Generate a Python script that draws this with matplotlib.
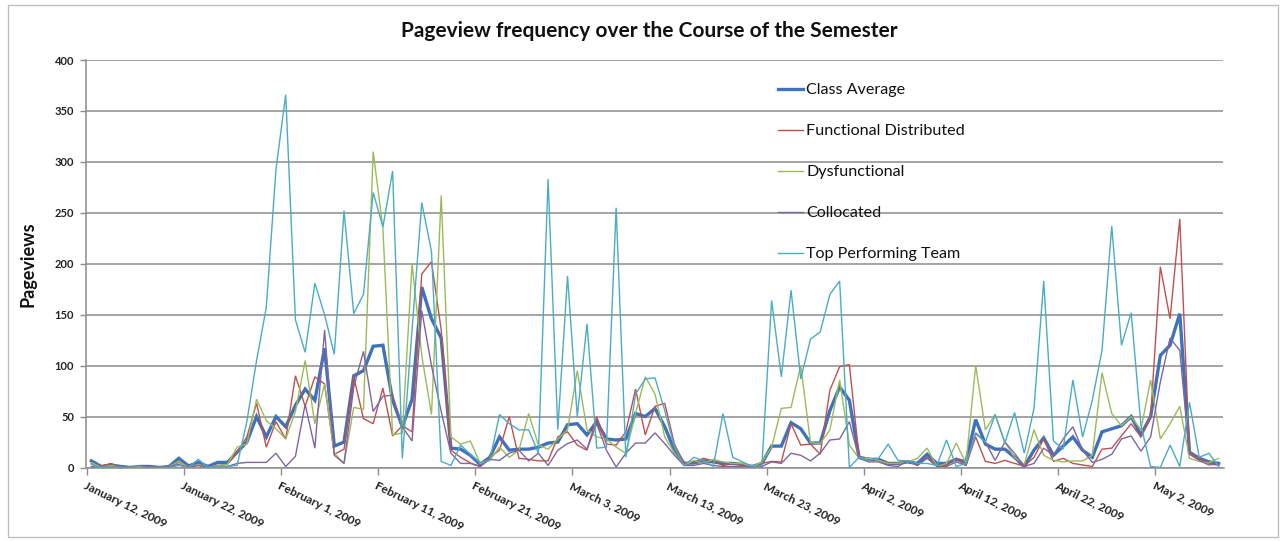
import numpy as np
import pandas as pd
import matplotlib
matplotlib.use("Agg")
import matplotlib.pyplot as plt
from matplotlib.patches import Rectangle

plt.rcParams['font.family'] = ['Lato', 'DejaVu Sans']

# daily pageviews, Jan 12 2009 .. May 8 2009
start = '2009-01-12'
class_average = [
    6.5, 1, 2.5, 1, 0, 1, 1, 0, 1, 9, 1.5, 5, 1, 5, 5, 15, 25, 50, 30, 50,
    40, 61, 77, 66, 117, 21, 25, 90, 95, 119, 120, 66, 40, 67, 177, 146, 127, 19, 18,
    12, 3, 10, 30, 17, 18, 18, 20, 24, 25, 42, 43, 32, 45, 28, 27, 28, 53, 50, 58,
    40, 17, 4, 4.5, 6.5, 5.5, 4, 4, 3, 1, 4, 21, 21, 44, 38, 24, 24, 56, 79,
    66, 10, 8, 8, 4, 4, 5.5, 4, 13, 4, 4, 8, 5.5, 47, 23, 18, 18, 10, 1, 17,
    29, 12, 21, 30, 17, 10, 35, 38, 41, 50, 32, 50, 110, 120, 151, 15, 9, 5.5, 4]
functional_distributed = [
    4, 1, 4, 0, 0, 1, 1, 0, 1, 5, 1, 2, 0, 2, 3, 15, 30, 63, 20, 45,
    28, 90, 60, 89, 82, 13, 18, 89, 48, 43, 78, 31, 41, 35, 190, 202, 135, 17, 10,
    4.5, 1, 10, 17, 50, 9, 8, 6.5, 6.5, 30, 35, 22, 17, 50, 23, 22, 35, 77, 32, 60,
    63, 23, 4, 5.5, 9, 6.5, 2, 4, 2, 0.5, 4, 6, 5.5, 43, 22, 23, 13, 76, 99,
    101, 10, 9, 7, 4, 4, 6.5, 2, 10, 2, 2, 9, 2, 30, 6, 4, 7, 4, 1.5, 10,
    28, 6, 9, 4, 2.5, 1, 18, 19, 31, 43, 30, 50, 197, 146, 244, 15, 8.5, 4, 2]
dysfunctional = [
    5, 0, 2, 0, 0, 1, 0, 0, 1, 6, 0, 3, 0, 2, 3, 20, 23, 67, 46, 38,
    28, 55, 105, 43, 82, 14, 4, 59, 57, 310, 235, 32, 34, 200, 110, 52, 267, 30, 23,
    26, 4, 7, 20, 10, 17, 53, 22, 18, 28, 37, 95, 37, 30, 28, 20, 14, 53, 89, 72,
    30, 14, 2, 7, 4, 8, 5.5, 4, 4, 1, 5.5, 20, 58, 59, 100, 24.5, 23.5, 37, 86,
    22, 9, 9, 7, 4, 4, 5.5, 9, 19, 1, 4, 24, 4, 100, 37, 52, 25, 10, 3, 37,
    12, 7, 5.5, 6.5, 6.5, 12, 93, 53, 41, 50, 37, 86, 28, 43, 60, 9, 6, 4.5, 9]
collocated = [
    1, 0, 1, 0, 0, 0, 1, 0, 1, 3, 0, 2, 0, 1, 1, 4, 5, 5, 5, 14,
    1, 11, 62, 19, 135, 12, 4, 79, 114, 55, 70, 71, 40, 26, 154, 100, 55, 14, 4,
    4, 1, 8, 7, 14, 17, 6.5, 14, 2, 17, 23.5, 27, 18, 43, 17, 0.5, 14, 24, 24, 34,
    23.5, 12, 2, 2, 4, 2, 1, 1, 1, 1, 1, 5.5, 4, 14, 12, 6.5, 14, 27, 28,
    45, 9, 5.5, 5.5, 2, 1, 6.5, 2, 9, 1, 1, 5.5, 2, 34, 25, 7, 25, 14, 1, 4,
    19, 12, 28, 40, 17, 5, 8, 13, 28, 31, 16, 30, 84, 127, 115, 13, 7, 2.5, 3.5]
top_team = [
    3, 0, 1, 0, 0, 0, 0, 0, 0, 2, 0, 8, 0, 1, 1, 2, 45, 105, 157, 293,
    366, 145, 113, 181, 150, 111, 252, 151, 170, 270, 236, 291, 9, 135, 260, 212, 6, 2, 22,
    13, 5, 7, 52, 43, 37, 37, 14, 283, 37, 188, 50, 141, 19, 20, 255, 10, 72, 87, 88,
    56, 20, 2, 10, 6.5, 1, 53, 10, 5.5, 1, 2, 164, 89, 174, 87, 126, 133, 170, 183,
    0, 10, 7, 9, 23, 7, 6.5, 4, 4, 2, 27, 1, 4, 33, 25, 52, 24, 54, 14, 58,
    183, 26, 18, 86, 30, 66, 115, 237, 120, 152, 42, 1, 0, 22, 1, 64, 10, 14, 1]

series = [
    ('Class Average', class_average, '#3F72B8', 2.4),
    ('Functional Distributed', functional_distributed, '#C0504D', 1.0),
    ('Dysfunctional', dysfunctional, '#9BBB59', 1.0),
    ('Collocated', collocated, '#8064A2', 1.0),
    ('Top Performing Team', top_team, '#4BACC6', 1.0),
]

dates = pd.date_range(start, periods=len(class_average), freq='D')
xpos = dates + pd.Timedelta(hours=12)

fig = plt.figure(figsize=(12.84, 5.41), dpi=100)
ax = fig.add_axes([86.5 / 1284, 73.5 / 541, 1137 / 1284, 407.5 / 541])

for name, vals, color, lw in series:
    ax.plot(xpos, vals, color=color, lw=lw, label=name, solid_joinstyle='miter')

ax.set_xlim(dates[0], dates[-1] + pd.Timedelta(days=1))
ax.set_ylim(0, 400)
ax.set_yticks(np.arange(0, 401, 50))
ax.yaxis.grid(True, color='#8C8C8C', lw=1.1)
ax.set_axisbelow(True)

ticks = pd.date_range(start, periods=12, freq='10D')
ax.set_xticks(ticks)
ax.set_xticklabels([f"{d:%B} {d.day}, {d.year}" for d in ticks],
                   rotation=-26, ha='left', va='top', rotation_mode='anchor',
                   fontsize=8.6, fontweight='bold', color='#222222')
for lab in ax.get_yticklabels():
    lab.set_fontweight('bold')
ax.tick_params(axis='y', labelsize=8, colors='#8C8C8C', labelcolor='#222222',
               length=4, width=1, pad=5)
ax.tick_params(axis='x', colors='#8C8C8C', labelcolor='#222222', length=5, width=1, pad=4)

for s in ['top', 'right']:
    ax.spines[s].set_visible(False)
for s in ['left', 'bottom']:
    ax.spines[s].set_color('#8C8C8C')
    ax.spines[s].set_linewidth(1.1)

ax.set_ylabel('Pageviews', fontsize=13, fontweight='bold', color='#111111')
ax.yaxis.set_label_coords((37 - 86.5) / 1137, 0.5)

fig.text(649 / 1284, 1 - 31 / 541, 'Pageview frequency over the Course of the Semester',
         ha='center', va='center', fontsize=15, fontweight='bold', color='#111111')

leg = ax.legend(loc='upper left', bbox_to_anchor=((778 - 86.5) / 1137, (467.5 - 83) / 407.5),
                frameon=False, fontsize=11.6, handlelength=1.55, handletextpad=0.2,
                labelspacing=1.66, borderpad=0, borderaxespad=0)
for t in leg.get_texts():
    t.set_color('#111111')

fig.patches.append(Rectangle((8 / 1284, 4 / 541), 1270 / 1284, 532 / 541,
                             transform=fig.transFigure, fill=False,
                             edgecolor='#BFBFBF', lw=1))

fig.savefig('out.png', dpi=100)
